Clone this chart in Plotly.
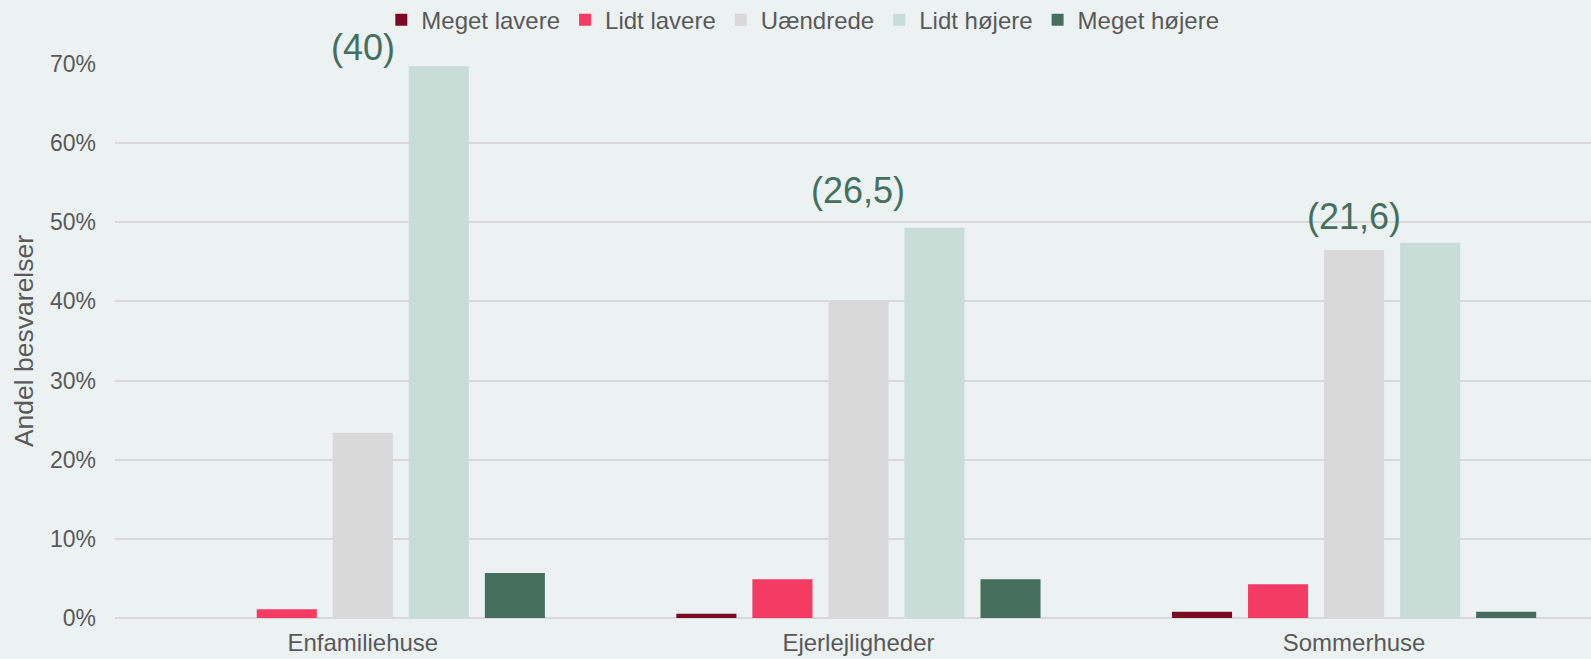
import plotly.graph_objects as go

# Data
kategorier = ["Enfamiliehuse", "Ejerlejligheder", "Sommerhuse"]
serier = ["Meget lavere", "Lidt lavere", "Uændrede", "Lidt højere", "Meget højere"]
meget_lavere = [0.0, 0.0055, 0.008]
lidt_lavere = [0.011, 0.049, 0.0425]
uaendrede = [0.234, 0.400, 0.465]
lidt_hoejere = [0.697, 0.493, 0.474]
meget_hoejere = [0.057, 0.049, 0.008]
noegletal = ["(40)", "(26,5)", "(21,6)"]
noegletal_y = [0.721, 0.540, 0.507]

farver = ["#7a0a24", "#f43b63", "#d9d9d9", "#c9ddd7", "#466e5e"]
vaerdier = [meget_lavere, lidt_lavere, uaendrede, lidt_hoejere, meget_hoejere]
y_max = 0.7

fig = go.Figure()
for navn, v, farve in zip(serier, vaerdier, farver):
    fig.add_trace(go.Bar(
        x=kategorier,
        y=v,
        name=navn,
        marker_color=farve,
        marker_line_width=0,
    ))

# Tal i parentes over hver gruppe (paper-koordinater, saa (40) ikke klippes)
for kat, tekst, yy in zip(kategorier, noegletal, noegletal_y):
    fig.add_annotation(
        x=kat, y=yy / y_max, text=tekst, showarrow=False,
        xref="x", yref="paper", yanchor="middle",
        font=dict(size=36, color="#44705e"),
    )

fig.update_layout(
    width=1591,
    height=659,
    paper_bgcolor="#ecf2f2",
    plot_bgcolor="#ecf2f2",
    font=dict(family="Arial, Liberation Sans, sans-serif", size=24, color="#595959"),
    barmode="group",
    bargap=0.233,
    bargroupgap=0.21,
    margin=dict(l=115, r=0, t=64, b=41, autoexpand=False),
    showlegend=True,
    legend=dict(
        orientation="h",
        x=0.466, xanchor="center",
        y=1.079, yanchor="middle",
        font=dict(size=24, color="#595959"),
        bgcolor="rgba(0,0,0,0)",
        itemwidth=30,
    ),
    xaxis=dict(
        range=[-0.5, 2.478],
        showgrid=False,
        showline=False,
        zeroline=False,
        tickfont=dict(size=24),
        ticks="",
        ticklabelstandoff=8,
    ),
    yaxis=dict(
        title=dict(text="Andel besvarelser", font=dict(size=26.5), standoff=8),
        range=[0, y_max],
        dtick=0.1,
        tickformat=".0%",
        gridcolor="#d9d9d9",
        gridwidth=1.5,
        zeroline=True,
        zerolinecolor="#d9d9d9",
        zerolinewidth=2,
        ticks="",
        ticklabelstandoff=18,
        tickfont=dict(size=23),
    ),
)

# fjern browserens standardmargen paa body
fig.write_html(
    "out.html",
    config={"displayModeBar": False},
    post_script="document.body.style.margin='0';document.body.style.overflow='hidden';",
)
